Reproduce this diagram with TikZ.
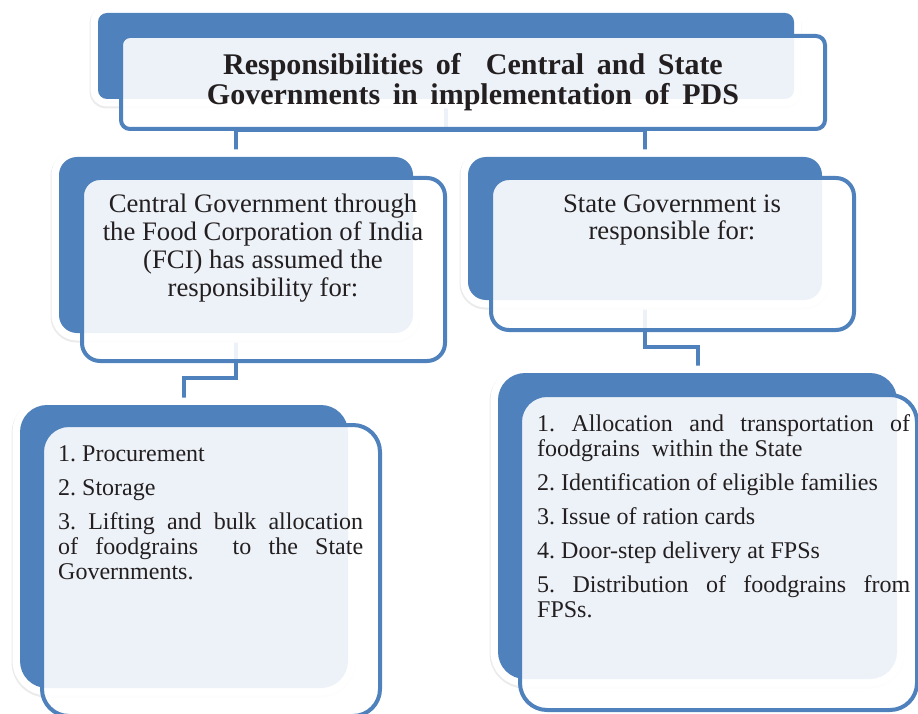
\documentclass[tikz,border=0pt]{standalone}
\usepackage{fontspec}
\setmainfont{Liberation Serif}
\definecolor{pdsblue}{RGB}{79,129,189}
\definecolor{pdstext}{RGB}{35,31,32}
\pgfdeclarelayer{links}
\pgfsetlayers{links,main}
% the font's own interword glue, stretchable, with no wider space after a period
\newcommand{\normalspaces}{\spaceskip=0pt\xspaceskip=0pt\frenchspacing}
% wider word spaces for the heading
\newcommand{\widespaces}{\spaceskip=0.42em\relax}
% a line of a justified paragraph, stretched to the given width
\newcommand{\jline}[2]{\noindent{\normalspaces\hbox to #1{#2}}}
\begin{document}
\begin{tikzpicture}[x=1pt,y=-1pt,
  backbox/.style={rectangle, rounded corners=#1, fill=pdsblue, inner sep=0pt, outer sep=0pt,
    anchor=north west,
    preaction={draw=black!8, line width=16pt, transform canvas={xshift=-0.5pt, yshift=-1.5pt}},
    preaction={draw=white, line width=15pt}},
  frontbox/.style={rectangle, rounded corners=#1, draw=pdsblue, line width=4pt,
    fill=white, fill opacity=0.9, inner sep=0pt, outer sep=0pt, anchor=north west},
  conn/.style={draw=pdsblue, line width=4pt},
  headtext/.style={text=pdstext, inner sep=0pt, align=center,
    font=\bfseries\fontsize{30pt}{30pt}\selectfont},
  leadtext/.style={text=pdstext, inner sep=0pt, align=center,
    font=\fontsize{26.7pt}{27.7pt}\selectfont},
  itemtext/.style={text=pdstext, inner sep=0pt, align=left,
    font=\fontsize{24pt}{25pt}\selectfont},
]
\useasboundingbox (0,0) rectangle (918,714);
\clip (0,0) rectangle (918,714);

% back panels
\node[backbox=9pt,  minimum width=696pt, minimum height=86pt]  (tb) at (98,13) {};
\node[backbox=18pt, minimum width=354pt, minimum height=176pt] (cb) at (59,157) {};
\node[backbox=18pt, minimum width=354pt, minimum height=143pt] (sb) at (468,157) {};
\node[backbox=27pt, minimum width=328pt, minimum height=283pt] (pb) at (20,405) {};
\node[backbox=27pt, minimum width=399pt, minimum height=306pt] (lb) at (498,373) {};

% connectors, behind all panels
\begin{pgfonlayer}{links}
  \draw[conn] (tb.south) -- ++(0,31) -| (cb.north);
  \draw[conn] (tb.south) -- ++(0,31) -| (sb.north);
  \draw[conn] (cb.south) -- ++(0,45) -| (pb.north);
  \draw[conn] (sb.south) -- ++(0,47) -| (lb.north);
\end{pgfonlayer}

% front panels
\node[frontbox=9pt,  minimum width=704pt, minimum height=93pt]  (tf) at (121,36) {};
\node[frontbox=18pt, minimum width=363pt, minimum height=183pt] (cf) at (82,178) {};
\node[frontbox=18pt, minimum width=363pt, minimum height=152pt] (sf) at (491,178) {};
\node[frontbox=27pt, minimum width=338pt, minimum height=291pt] (pf) at (42,425) {};
\node[frontbox=27pt, minimum width=397pt, minimum height=315pt] (lf) at (520,395) {};

% texts (centred blocks sit on the baseline of their last line)
\node[headtext, anchor=base] (tt) at (473,105)
  {\widespaces Responsibilities of\ \ Central and State\\
   \widespaces Governments in implementation of PDS};
\node[leadtext, anchor=base] (ct) at (263,296)
  {Central Government through\\the Food Corporation of India\\(FCI) has assumed the\\responsibility for:};
\node[leadtext, anchor=base] (st) at (672,240)
  {State Government is\\responsible for:};
\node[itemtext, text width=305pt, anchor=base west] (pt) at (58,461)
  {\normalspaces 1. Procurement\\[9pt]
   2. Storage\\[9pt]
   \jline{305pt}{3. Lifting and bulk allocation}\\
   \jline{305pt}{of foodgrains\ \ to the State}\\
   Governments.};
\node[itemtext, text width=373pt, anchor=base west] (lt) at (537,431)
  {\jline{373pt}{1. Allocation and transportation of}\\
   \normalspaces foodgrains\ \ within the State\\[9pt]
   2. Identification of eligible families\\[9pt]
   3. Issue of ration cards\\[9pt]
   4. Door-step delivery at FPSs\\[9pt]
   \jline{373pt}{5. Distribution of foodgrains from}\\
   FPSs.};
\end{tikzpicture}
\end{document}
